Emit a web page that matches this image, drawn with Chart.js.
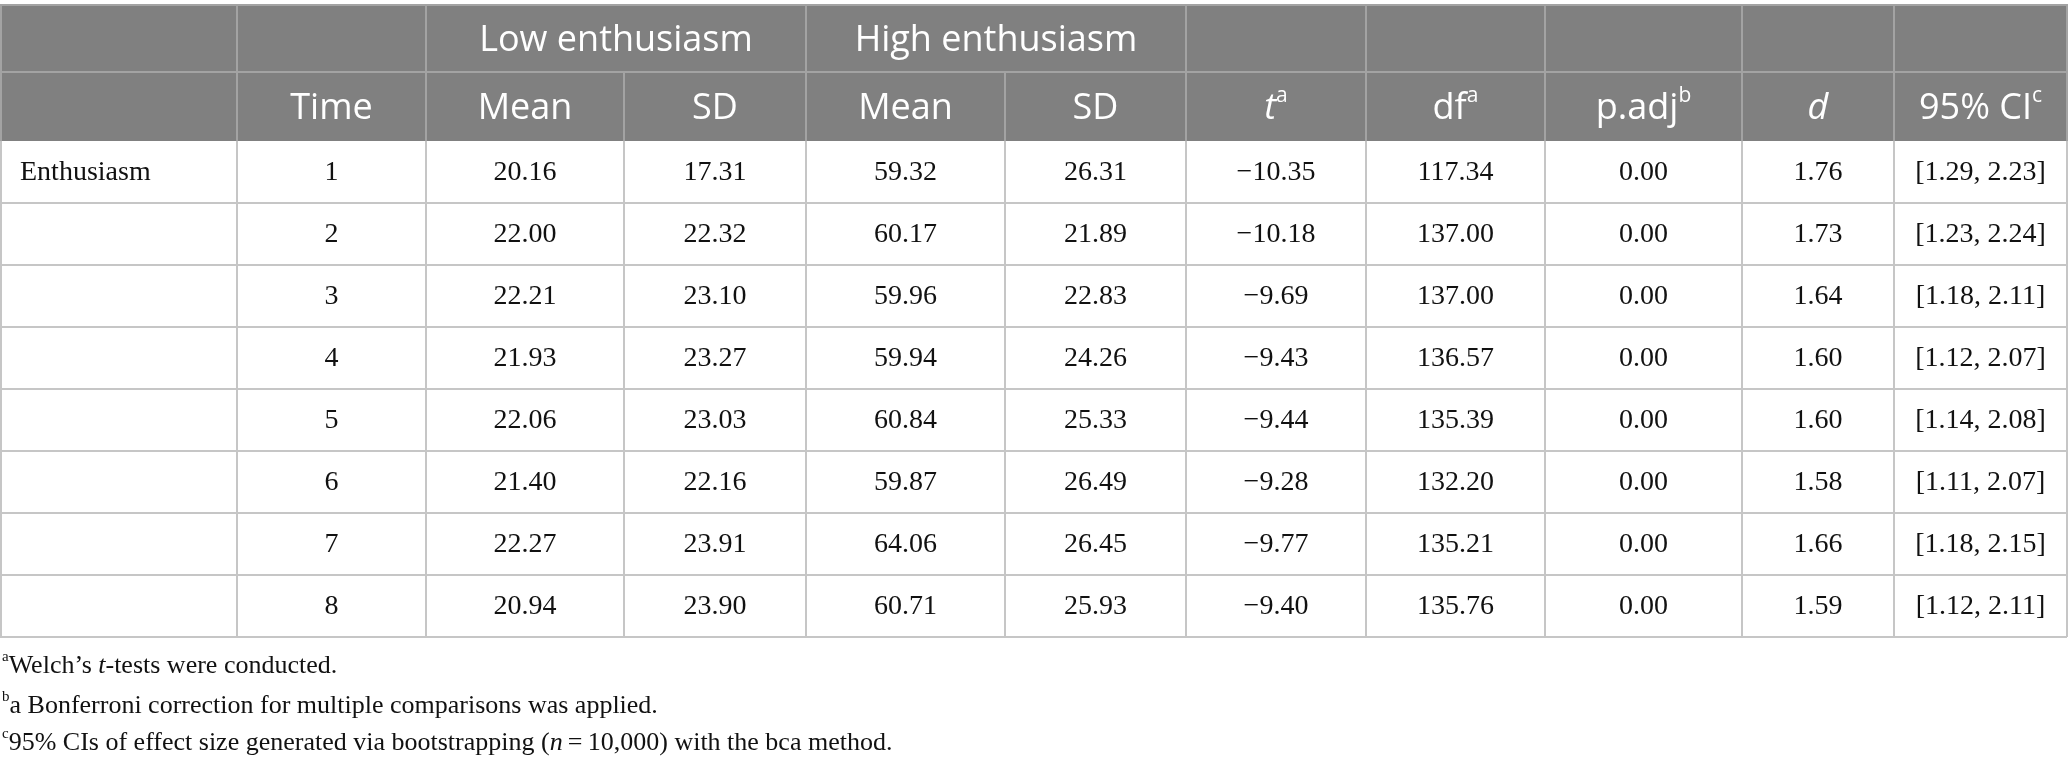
<!DOCTYPE html>
<html>
<head>
<meta charset="utf-8">
<script src="https://cdn.jsdelivr.net/npm/chart.js@4/dist/chart.umd.min.js"></script>
<style>
  html, body { margin: 0; padding: 0; background: #fff; }
  canvas { display: block; }
</style>
</head>
<body>
<canvas id="tableChart" width="2068" height="765"></canvas>
<script>
const rowLabel = 'Enthusiasm';
const times = [1, 2, 3, 4, 5, 6, 7, 8];
const lowMean = [20.16, 22.00, 22.21, 21.93, 22.06, 21.40, 22.27, 20.94];
const lowSD = [17.31, 22.32, 23.10, 23.27, 23.03, 22.16, 23.91, 23.90];
const highMean = [59.32, 60.17, 59.96, 59.94, 60.84, 59.87, 64.06, 60.71];
const highSD = [26.31, 21.89, 22.83, 24.26, 25.33, 26.49, 26.45, 25.93];
const tValues = [-10.35, -10.18, -9.69, -9.43, -9.44, -9.28, -9.77, -9.40];
const dfValues = [117.34, 137.00, 137.00, 136.57, 135.39, 132.20, 135.21, 135.76];
const pAdj = [0.00, 0.00, 0.00, 0.00, 0.00, 0.00, 0.00, 0.00];
const dValues = [1.76, 1.73, 1.64, 1.60, 1.60, 1.58, 1.66, 1.59];
const ciLow = [1.29, 1.23, 1.18, 1.12, 1.14, 1.11, 1.18, 1.12];
const ciHigh = [2.23, 2.24, 2.11, 2.07, 2.08, 2.07, 2.15, 2.11];
const groupLabels = ['Low enthusiasm', 'High enthusiasm'];

// layout (in scale units)
const colEdges = [0, 237, 426, 624, 806, 1005, 1186, 1366, 1545, 1742, 1894, 2067];
const headTop = 4, headMid = 72, headBottom = 141, rowH = 62;
const footY = [666, 706, 743];

const HEAD = '"Open Sans", "Noto Sans", sans-serif';
const SERIF = '"Liberation Serif", "DejaVu Serif", serif';

function fmt(v) {
  const s = Math.abs(v).toFixed(2);
  return v < 0 ? '\u2212' + s : s;
}

// draw a list of text runs, each with its own font and vertical shift
function drawRuns(ctx, runs, x, y, align) {
  let total = 0;
  runs.forEach(r => { ctx.font = r.font; total += ctx.measureText(r.text).width; });
  let cx = align === 'center' ? x - total / 2 : x;
  ctx.textAlign = 'left';
  runs.forEach(r => {
    ctx.font = r.font;
    ctx.fillText(r.text, cx, y + (r.dy || 0));
    cx += ctx.measureText(r.text).width;
  });
}

const hf = '36px ' + HEAD, hfi = 'italic 36px ' + HEAD, hsup = '21px ' + HEAD;
const headerRow = [
  [],
  [{ text: 'Time', font: hf }],
  [{ text: 'Mean', font: hf }],
  [{ text: 'SD', font: hf }],
  [{ text: 'Mean', font: hf }],
  [{ text: 'SD', font: hf }],
  [{ text: 't', font: hfi }, { text: 'a', font: hsup, dy: -12 }],
  [{ text: 'df', font: hf }, { text: 'a', font: hsup, dy: -12 }],
  [{ text: 'p.adj', font: hf }, { text: 'b', font: hsup, dy: -12 }],
  [{ text: 'd', font: hfi }],
  [{ text: '95% CI', font: hf }, { text: 'c', font: hsup, dy: -12 }]
];

const ff = '26px ' + SERIF, ffi = 'italic 26px ' + SERIF, fsup = '15px ' + SERIF;
const footnotes = [
  [{ text: 'a', font: fsup, dy: -9 }, { text: 'Welch\u2019s ', font: ff }, { text: 't', font: ffi }, { text: '-tests were conducted.', font: ff }],
  [{ text: 'b', font: fsup, dy: -9 }, { text: 'a Bonferroni correction for multiple comparisons was applied.', font: ff }],
  [{ text: 'c', font: fsup, dy: -9 }, { text: '95% CIs of effect size generated via bootstrapping (', font: ff }, { text: 'n', font: ffi }, { text: '\u2009=\u200910,000) with the bca method.', font: ff }]
];

const tablePlugin = {
  id: 'tableCells',
  afterDraw(chart) {
    const { ctx, scales: { x, y } } = chart;
    const px = v => x.getPixelForValue(v);
    const py = v => y.getPixelForValue(v);
    const nRows = times.length;
    const bodyBottom = headBottom + nRows * rowH;
    const L = px(colEdges[0]), R = px(colEdges[colEdges.length - 1]);

    ctx.save();
    // header background
    ctx.fillStyle = '#808080';
    ctx.fillRect(L, py(headTop), R - L, py(headBottom) - py(headTop));

    // header grid
    ctx.strokeStyle = '#a3a3a3';
    ctx.lineWidth = 2;
    ctx.beginPath();
    ctx.moveTo(L, py(headTop) + 1); ctx.lineTo(R, py(headTop) + 1);
    ctx.moveTo(L, py(headMid)); ctx.lineTo(R, py(headMid));
    colEdges.forEach((c, i) => {
      const xx = px(c) + (i === 0 ? 1 : 0);
      const spanned = (i === 3 || i === 5);
      ctx.moveTo(xx, spanned ? py(headMid) : py(headTop));
      ctx.lineTo(xx, py(headBottom));
    });
    ctx.stroke();

    // header text
    ctx.fillStyle = '#ffffff';
    ctx.textBaseline = 'middle';
    const midTop = py((headTop + headMid) / 2 + 3);
    drawRuns(ctx, [{ text: groupLabels[0], font: hf }], (px(colEdges[2]) + px(colEdges[4])) / 2, midTop, 'center');
    drawRuns(ctx, [{ text: groupLabels[1], font: hf }], (px(colEdges[4]) + px(colEdges[6])) / 2, midTop, 'center');
    const midBot = py((headMid + headBottom) / 2 + 2);
    headerRow.forEach((runs, i) => {
      if (runs.length) drawRuns(ctx, runs, (px(colEdges[i]) + px(colEdges[i + 1])) / 2, midBot, 'center');
    });

    // body grid
    ctx.strokeStyle = '#c6c6c6';
    ctx.lineWidth = 2;
    ctx.beginPath();
    for (let r = 1; r <= nRows; r++) {
      const yy = py(headBottom + r * rowH);
      ctx.moveTo(L, yy); ctx.lineTo(R, yy);
    }
    colEdges.forEach((c, i) => {
      const xx = px(c) + (i === 0 ? 1 : 0);
      ctx.moveTo(xx, py(headBottom)); ctx.lineTo(xx, py(bodyBottom));
    });
    ctx.stroke();

    // body text
    ctx.fillStyle = '#111111';
    const bf = '28px ' + SERIF;
    for (let r = 0; r < nRows; r++) {
      const yc = py(headBottom + r * rowH + rowH / 2 + 1);
      const cells = [
        r === 0 ? rowLabel : '', String(times[r]), fmt(lowMean[r]), fmt(lowSD[r]),
        fmt(highMean[r]), fmt(highSD[r]), fmt(tValues[r]), fmt(dfValues[r]),
        fmt(pAdj[r]), fmt(dValues[r]), '[' + fmt(ciLow[r]) + ', ' + fmt(ciHigh[r]) + ']'
      ];
      cells.forEach((txt, i) => {
        if (!txt) return;
        if (i === 0) drawRuns(ctx, [{ text: txt, font: bf }], px(colEdges[0]) + 20, yc, 'left');
        else drawRuns(ctx, [{ text: txt, font: bf }], (px(colEdges[i]) + px(colEdges[i + 1])) / 2, yc, 'center');
      });
    }

    // footnotes
    ctx.fillStyle = '#111111';
    footnotes.forEach((runs, i) => drawRuns(ctx, runs, px(2), py(footY[i]), 'left'));
    ctx.restore();
  }
};

function build() {
  new Chart(document.getElementById('tableChart'), {
    type: 'scatter',
    data: { datasets: [] },
    options: {
      responsive: false,
      animation: false,
      devicePixelRatio: 1,
      layout: { padding: 0 },
      plugins: { legend: { display: false }, tooltip: { enabled: false } },
      scales: {
        x: { type: 'linear', display: false, min: 0, max: 2068 },
        y: { type: 'linear', display: false, min: 0, max: 765, reverse: true }
      }
    },
    plugins: [tablePlugin]
  });
}

Promise.all([
  document.fonts.load('36px "Open Sans"'),
  document.fonts.load('italic 36px "Open Sans"'),
  document.fonts.load('28px "Liberation Serif"'),
  document.fonts.load('italic 28px "Liberation Serif"')
]).then(build, build);
</script>
</body>
</html>
